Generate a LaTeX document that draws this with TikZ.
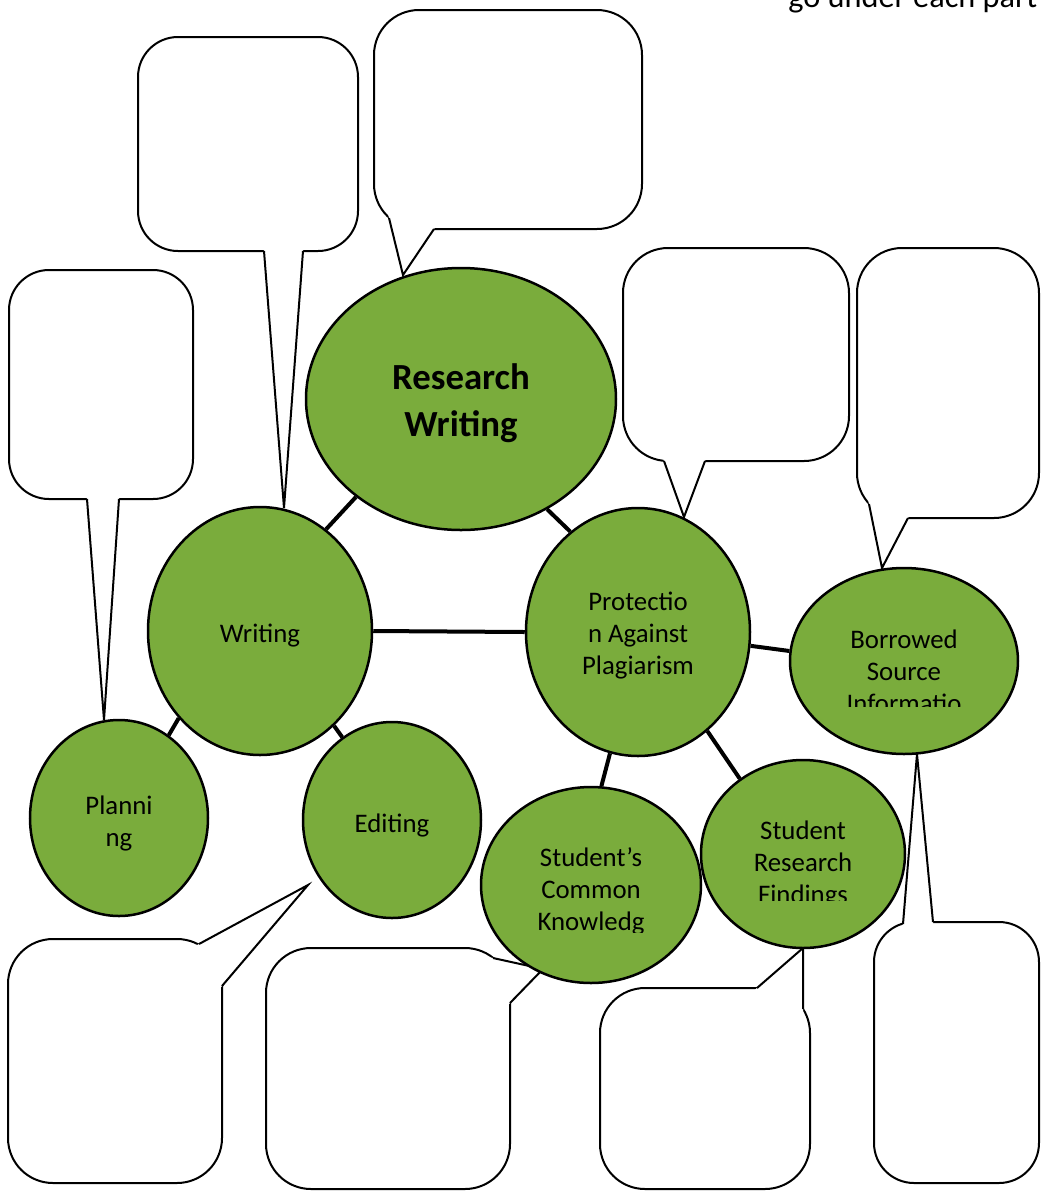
\documentclass[tikz,border=0pt]{standalone}
\usepackage{fontspec}
\setmainfont{Carlito}
\usetikzlibrary{shapes.geometric,calc}
\pgfdeclarelayer{bg}
\pgfsetlayers{bg,main}
\definecolor{leaf}{RGB}{122,172,60}
\tikzset{
  ell/.style={ellipse, draw=black, line width=1.25pt, fill=leaf, inner sep=0pt},
  conn/.style={line width=2pt},
  cbox/.style={draw=black, fill=white, line width=1pt},
  cline/.style={draw=black, line width=1pt, line join=miter},
  lbl/.style={align=center, font=\fontsize{13.4}{16}\selectfont, inner sep=0pt},
}
\newcommand\mycallout[6]{%
  \draw[cbox, rounded corners=#1] (#2) rectangle (#3);
  \fill[white] ($(#4)!-5pt!(#5)$) -- (#5) -- ($(#6)!-5pt!(#5)$) -- cycle;
  \draw[cline] (#4) -- (#5) -- (#6);
}
\begin{document}
\begin{tikzpicture}[x=0.5pt,y=-0.5pt]
\clip (0,0) rectangle (1041,1191);

% ellipses
\node[ell, minimum width=155pt, minimum height=131pt] (rw) at (461,399) {};
\node[ell, minimum width=112pt, minimum height=124pt] (wr) at (260,631) {};
\node[ell, minimum width=112pt, minimum height=124pt] (pp) at (638,632) {};
\node[ell, minimum width=114pt, minimum height=93pt]  (bs) at (904,661) {};
\node[ell, minimum width=89pt,  minimum height=98pt]  (pl) at (119,818) {};
\node[ell, minimum width=89pt,  minimum height=98pt]  (ed) at (392,820) {};
\node[ell, minimum width=110pt, minimum height=98pt]  (sc) at (591,885) {};
\node[ell, minimum width=102pt, minimum height=94pt]  (sr) at (803,854) {};

% labels
\node[lbl, font=\bfseries\fontsize{18.4}{23.5}\selectfont] (trw) at (461,403) {Research\\Writing};
\node[lbl] (twr) at (260,636) {Writing};
\node[lbl] (tpp) at (638,636) {Protectio\\n Against\\Plagiarism};
\node[lbl] (tpl) at (119,823) {Planni\\ng};
\node[lbl] (ted) at (392,825) {Editing};
\begin{scope}
  \clip (780,560) rectangle (1030,706);
  \node[lbl] (tbs) at (904,671) {Borrowed\\Source\\Informatio};
\end{scope}
\begin{scope}
  \clip (480,780) rectangle (700,932);
  \node[lbl] (tsc) at (591,891) {Student’s\\Common\\Knowledg};
\end{scope}
\begin{scope}
  \clip (700,760) rectangle (905,900);
  \node[lbl] (tsr) at (803,864) {Student\\Research\\Findings};
\end{scope}
\node[anchor=base west, inner sep=0pt, font=\fontsize{16.15}{19}\selectfont] (top) at (788,7) {go under each part};

% connectors
\draw[conn] (rw.223) -- (wr.57);
\draw[conn] (rw.308) -- (pp.124);
\draw[conn] (wr.0) -- (pp.180);
\draw[conn] (wr.227) -- (pl.59);
\draw[conn] (wr.308) -- (ed.121);
\draw[conn] (pp.353) -- (bs.175);
\draw[conn] (pp.257) -- (sc.84);
\draw[conn] (pp.305) -- (sr.130);

% callouts
\begin{pgfonlayer}{bg}
\fill[white] (0,0) rectangle (1041,1191);
\mycallout{22.5pt}{374,10}{642,229}{389,218}{403,275}{434,229}
\mycallout{20pt}{138,37}{358,251}{264,251}{284,508}{303,251}
\mycallout{20pt}{9,270}{193,499}{87,499}{104,720}{119,499}
\mycallout{22.5pt}{623,248}{849,461}{664,461}{684,517}{705,461}
\mycallout{22.5pt}{857,248}{1039,518}{869,504}{882,568}{908,518}
\mycallout{22.5pt}{8,939}{222,1183}{199,944}{308,885}{222,986}
\mycallout{22.5pt}{266,948}{510,1189}{493,958}{543,969}{510,1003}
\mycallout{22.5pt}{600,988}{810,1189}{757,988}{803,948}{803,1009}
\mycallout{20pt}{874,922}{1039,1183}{903,924}{917,754}{933,922}
\end{pgfonlayer}
\end{tikzpicture}
\end{document}
